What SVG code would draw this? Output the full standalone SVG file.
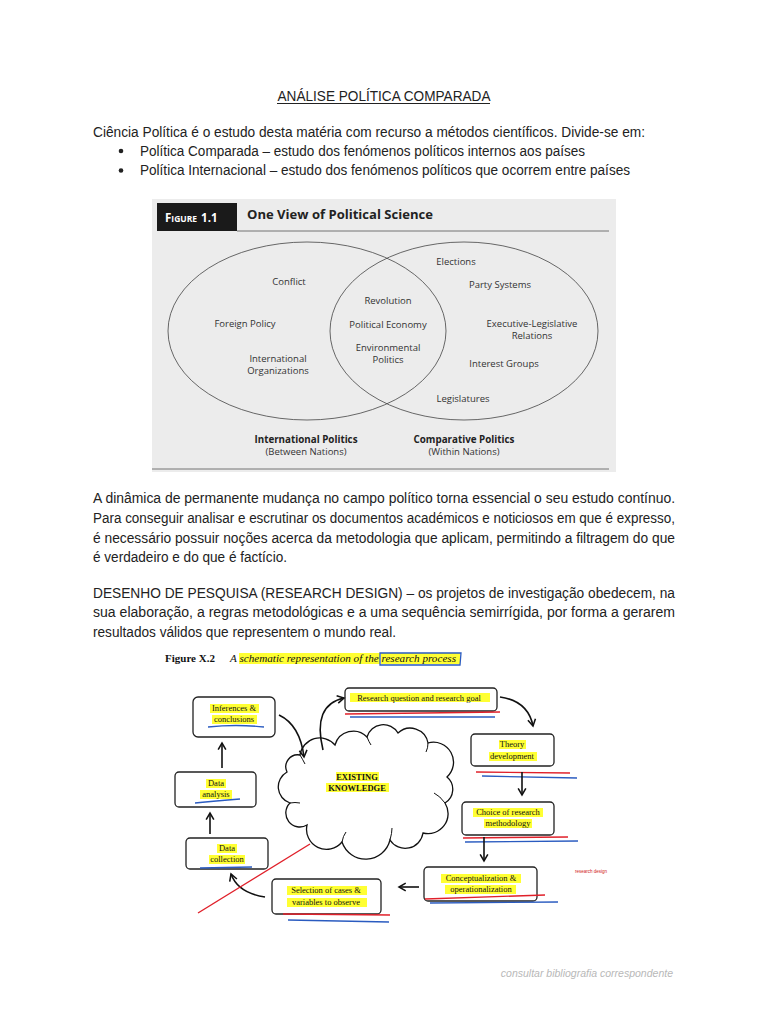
<svg xmlns="http://www.w3.org/2000/svg" width="768" height="1024" viewBox="0 0 768 1024">
<style>
.body{font-family:"Liberation Sans",Arial,sans-serif;font-size:14px;fill:#222}
.v{font-family:"Open Sans","Noto Sans",sans-serif;font-size:9.5px;fill:#333;text-anchor:middle}
.vb{font-family:"Open Sans","Noto Sans",sans-serif;font-size:9.8px;fill:#222;font-weight:bold;text-anchor:middle}
.t{font-family:"Liberation Serif","Times New Roman",serif;font-size:8.5px;fill:#111;text-anchor:middle}
.hl{fill:#ffff33}
.box{fill:#fff;stroke:#222;stroke-width:1.3}
.conn{fill:none;stroke:#111;stroke-width:1.6}
.red{fill:none;stroke:#e0202a;stroke-width:1.4}
.blue{fill:none;stroke:#2a5bc0;stroke-width:1.3}
</style>
<defs>
<marker id="ah" viewBox="0 0 10 10" refX="8" refY="5" markerWidth="6" markerHeight="6" orient="auto">
<path d="M1,1 L8,5 L1,9" fill="none" stroke="#111" stroke-width="1.6"/>
</marker>
</defs>
<rect width="768" height="1024" fill="#fff"/>

<!-- text -->
<text class="body" x="384" y="101" text-anchor="middle" textLength="213" lengthAdjust="spacingAndGlyphs">ANÁLISE POLÍTICA COMPARADA</text>
<line x1="277" y1="103.5" x2="490" y2="103.5" stroke="#222" stroke-width="1"/>
<text class="body" x="93" y="137" textLength="552" lengthAdjust="spacingAndGlyphs">Ciência Política é o estudo desta matéria com recurso a métodos científicos. Divide-se em:</text>
<circle cx="121" cy="151" r="2.3" fill="#222"/>
<text class="body" x="140" y="156" textLength="445" lengthAdjust="spacingAndGlyphs">Política Comparada – estudo dos fenómenos políticos internos aos países</text>
<circle cx="121" cy="170.5" r="2.3" fill="#222"/>
<text class="body" x="140" y="175" textLength="490" lengthAdjust="spacingAndGlyphs">Política Internacional – estudo dos fenómenos políticos que ocorrem entre países</text>

<!-- Figure 1.1 -->
<g id="figure11">
<rect x="152" y="199" width="464" height="273" fill="#ececec"/>
<rect x="157" y="203" width="80" height="28" fill="#1a1a1a"/>
<text x="165" y="222" font-family="'Open Sans','Noto Sans',sans-serif" font-weight="bold" fill="#fff" font-size="11.5">F<tspan font-size="8.5">IGURE</tspan><tspan dx="4">1.1</tspan></text>
<line x1="237" y1="231" x2="609" y2="231" stroke="#555" stroke-width="0.8"/>
<text x="247" y="219" font-family="'Open Sans','Noto Sans',sans-serif" font-weight="bold" fill="#222" font-size="12.5" textLength="186" lengthAdjust="spacingAndGlyphs">One View of Political Science</text>
<ellipse cx="307" cy="331" rx="139" ry="89" fill="none" stroke="#444" stroke-width="0.8"/>
<ellipse cx="464" cy="331" rx="134" ry="89" fill="none" stroke="#444" stroke-width="0.8"/>
<text class="v" x="289" y="285">Conflict</text>
<text class="v" x="245" y="327">Foreign Policy</text>
<text class="v" x="278" y="362">International</text>
<text class="v" x="278" y="374">Organizations</text>
<text class="v" x="388" y="304">Revolution</text>
<text class="v" x="388" y="328">Political Economy</text>
<text class="v" x="388" y="350.5">Environmental</text>
<text class="v" x="388" y="362.5">Politics</text>
<text class="v" x="456" y="265">Elections</text>
<text class="v" x="500" y="288">Party Systems</text>
<text class="v" x="532" y="326.5">Executive-Legislative</text>
<text class="v" x="532" y="338.5">Relations</text>
<text class="v" x="504" y="367">Interest Groups</text>
<text class="v" x="463" y="402">Legislatures</text>
<text class="vb" x="306" y="443">International Politics</text>
<text class="v" x="306" y="455">(Between Nations)</text>
<text class="vb" x="464" y="443">Comparative Politics</text>
<text class="v" x="464" y="455">(Within Nations)</text>
<line x1="152" y1="469" x2="609" y2="469" stroke="#555" stroke-width="0.8"/>
</g>

<text class="body" x="93" y="503" textLength="582" lengthAdjust="spacingAndGlyphs">A dinâmica de permanente mudança no campo político torna essencial o seu estudo contínuo.</text>
<text class="body" x="93" y="523" textLength="582" lengthAdjust="spacingAndGlyphs">Para conseguir analisar e escrutinar os documentos académicos e noticiosos em que é expresso,</text>
<text class="body" x="93" y="543" textLength="582" lengthAdjust="spacingAndGlyphs">é necessário possuir noções acerca da metodologia que aplicam, permitindo a filtragem do que</text>
<text class="body" x="93" y="562" textLength="194" lengthAdjust="spacingAndGlyphs">é verdadeiro e do que é factício.</text>

<text class="body" x="93" y="598" textLength="582" lengthAdjust="spacingAndGlyphs">DESENHO DE PESQUISA (RESEARCH DESIGN) – os projetos de investigação obedecem, na</text>
<text class="body" x="93" y="617" textLength="582" lengthAdjust="spacingAndGlyphs">sua elaboração, a regras metodológicas e a uma sequência semirrígida, por forma a gerarem</text>
<text class="body" x="93" y="637" textLength="303" lengthAdjust="spacingAndGlyphs">resultados válidos que representem o mundo real.</text>

<!-- Figure X.2 -->
<g id="figureX2-title">
<rect x="239" y="653" width="141" height="11" class="hl"/>
<rect x="381" y="653" width="79" height="11" class="hl"/>
<text x="165" y="662" font-family="'Liberation Serif',serif" font-weight="bold" font-size="11" fill="#111">Figure X.2</text>
<text x="230" y="662" font-family="'Liberation Serif',serif" font-style="italic" font-size="11" fill="#111" textLength="226" lengthAdjust="spacingAndGlyphs">A schematic representation of the research process</text>
<path d="M380,653 L461,653 L460,665 L380,665 Z" class="blue"/>
</g>

<g id="cloud">
<path d="M300,755 A20,20 0 0 1 335,745 A19,19 0 0 1 367,737 A17,17 0 0 1 398,733 A18,18 0 0 1 428,743 A20,20 0 0 1 447,777 A16,16 0 0 1 445,803 A20,20 0 0 1 423,833 A18,18 0 0 1 390,840 A25,25 0 0 1 342,842 A20,20 0 0 1 307,825 A14,14 0 0 1 290,803 A17,17 0 0 1 287,772 A12,12 0 0 1 300,755 Z" fill="#fff" stroke="#111" stroke-width="1.3"/>
<g fill="none" stroke="#111" stroke-width="1">
<path d="M300,755 Q303,760 305,764"/>
<path d="M367,737 Q369,742 371,745"/>
<path d="M428,743 Q428,748 426,752"/>
<path d="M445,803 Q440,796 434,793"/>
<path d="M390,840 Q392,833 392,828"/>
<path d="M342,842 Q343,836 346,832"/>
<path d="M290,803 Q295,802 300,803"/>
</g>
<rect x="336" y="772" width="43" height="9" class="hl"/>
<rect x="326" y="783" width="63" height="9" class="hl"/>
<text class="t" x="357" y="780" font-weight="bold">EXISTING</text>
<text class="t" x="357" y="791" font-weight="bold">KNOWLEDGE</text>
</g>

<g id="n-research-question">
<rect x="345" y="688" width="152" height="23" rx="4" class="box"/>
<rect x="350" y="693" width="140" height="9" class="hl"/>
<text class="t" x="419" y="701">Research question and research goal</text>
<path d="M345,714 L500,712" class="red"/>
<path d="M350,717 L495,717" class="blue"/>
</g>

<g id="n-theory">
<rect x="471" y="734" width="83" height="32" rx="4" class="box"/>
<rect x="499" y="740" width="27" height="9" class="hl"/>
<rect x="489" y="752" width="48" height="9" class="hl"/>
<text class="t" x="512" y="747">Theory</text>
<text class="t" x="512" y="759">development</text>
<path d="M476,772 L570,773" class="red"/>
<path d="M482,776 L577,778" class="blue"/>
</g>

<g id="n-choice">
<rect x="462" y="802" width="92" height="33" rx="4" class="box"/>
<rect x="473" y="808" width="70" height="9" class="hl"/>
<rect x="484" y="819" width="48" height="9" class="hl"/>
<text class="t" x="508" y="815">Choice of research</text>
<text class="t" x="508" y="826">methodology</text>
<path d="M463,838 L568,837" class="red"/>
<path d="M465,842 L578,841" class="blue"/>
</g>

<g id="n-conceptualization">
<rect x="424" y="867" width="113" height="34" rx="4" class="box"/>
<rect x="441" y="874" width="80" height="9" class="hl"/>
<rect x="445" y="885" width="71" height="9" class="hl"/>
<text class="t" x="481" y="881">Conceptualization &amp;</text>
<text class="t" x="481" y="892">operationalization</text>
<path d="M425,899 L545,895" class="red"/>
<path d="M430,903 L558,902" class="blue"/>
<text x="575" y="873" font-family="'Liberation Sans',sans-serif" font-size="4.5" fill="#d02020">research design</text>
</g>

<g id="n-selection">
<rect x="272" y="879" width="109" height="35" rx="4" class="box"/>
<rect x="287" y="886" width="80" height="9" class="hl"/>
<rect x="287" y="898" width="80" height="9" class="hl"/>
<text class="t" x="326" y="893">Selection of cases &amp;</text>
<text class="t" x="326" y="905">variables to observe</text>
<path d="M283,914 L390,915" class="red"/>
<path d="M288,920 L389,922" class="blue"/>
</g>

<g id="n-data-collection">
<rect x="186" y="838" width="82" height="31" rx="4" class="box"/>
<rect x="217" y="844" width="20" height="9" class="hl"/>
<rect x="209" y="855" width="36" height="9" class="hl"/>
<text class="t" x="227" y="851">Data</text>
<text class="t" x="227" y="862">collection</text>
<path d="M200,868 L252,867" class="blue"/>
</g>

<g id="n-data-analysis">
<rect x="175" y="772" width="81" height="35" rx="4" class="box"/>
<rect x="206" y="779" width="20" height="9" class="hl"/>
<rect x="200" y="790" width="32" height="9" class="hl"/>
<text class="t" x="216" y="786">Data</text>
<text class="t" x="216" y="797">analysis</text>
<path d="M195,803 Q215,801 240,799" class="blue"/>
</g>

<g id="n-inferences">
<rect x="193" y="697" width="82" height="40" rx="5" class="box"/>
<rect x="210" y="704" width="49" height="9" class="hl"/>
<rect x="212" y="715" width="45" height="9" class="hl"/>
<text class="t" x="234" y="711">Inferences &amp;</text>
<text class="t" x="234" y="722">conclusions</text>
<path d="M208,727 Q236,724 264,727" class="blue"/>
</g>

<g id="connectors">
<path d="M500,697 Q528,701 533,726" class="conn" marker-end="url(#ah)"/>
<path d="M522,772 L522,795" class="conn" marker-end="url(#ah)"/>
<path d="M484,837 L484,861" class="conn" marker-end="url(#ah)"/>
<path d="M419,887 L399,887" class="conn" marker-end="url(#ah)"/>
<path d="M265,897 Q238,893 231,874" class="conn" marker-end="url(#ah)"/>
<path d="M210,834 L210,813" class="conn" marker-end="url(#ah)"/>
<path d="M222,768 L222,743" class="conn" marker-end="url(#ah)"/>
<path d="M279,715 Q300,725 304,757" class="conn" marker-end="url(#ah)"/>
<path d="M323,750 Q312,705 344,698" class="conn" marker-end="url(#ah)"/>
</g>

<path d="M198,913 L310,844" class="red" stroke-width="1.6"/>

<text x="673" y="977" text-anchor="end" font-family="'Liberation Sans',sans-serif" font-style="italic" font-size="10.5" fill="#b8b8b8">consultar bibliografia correspondente</text>
</svg>
